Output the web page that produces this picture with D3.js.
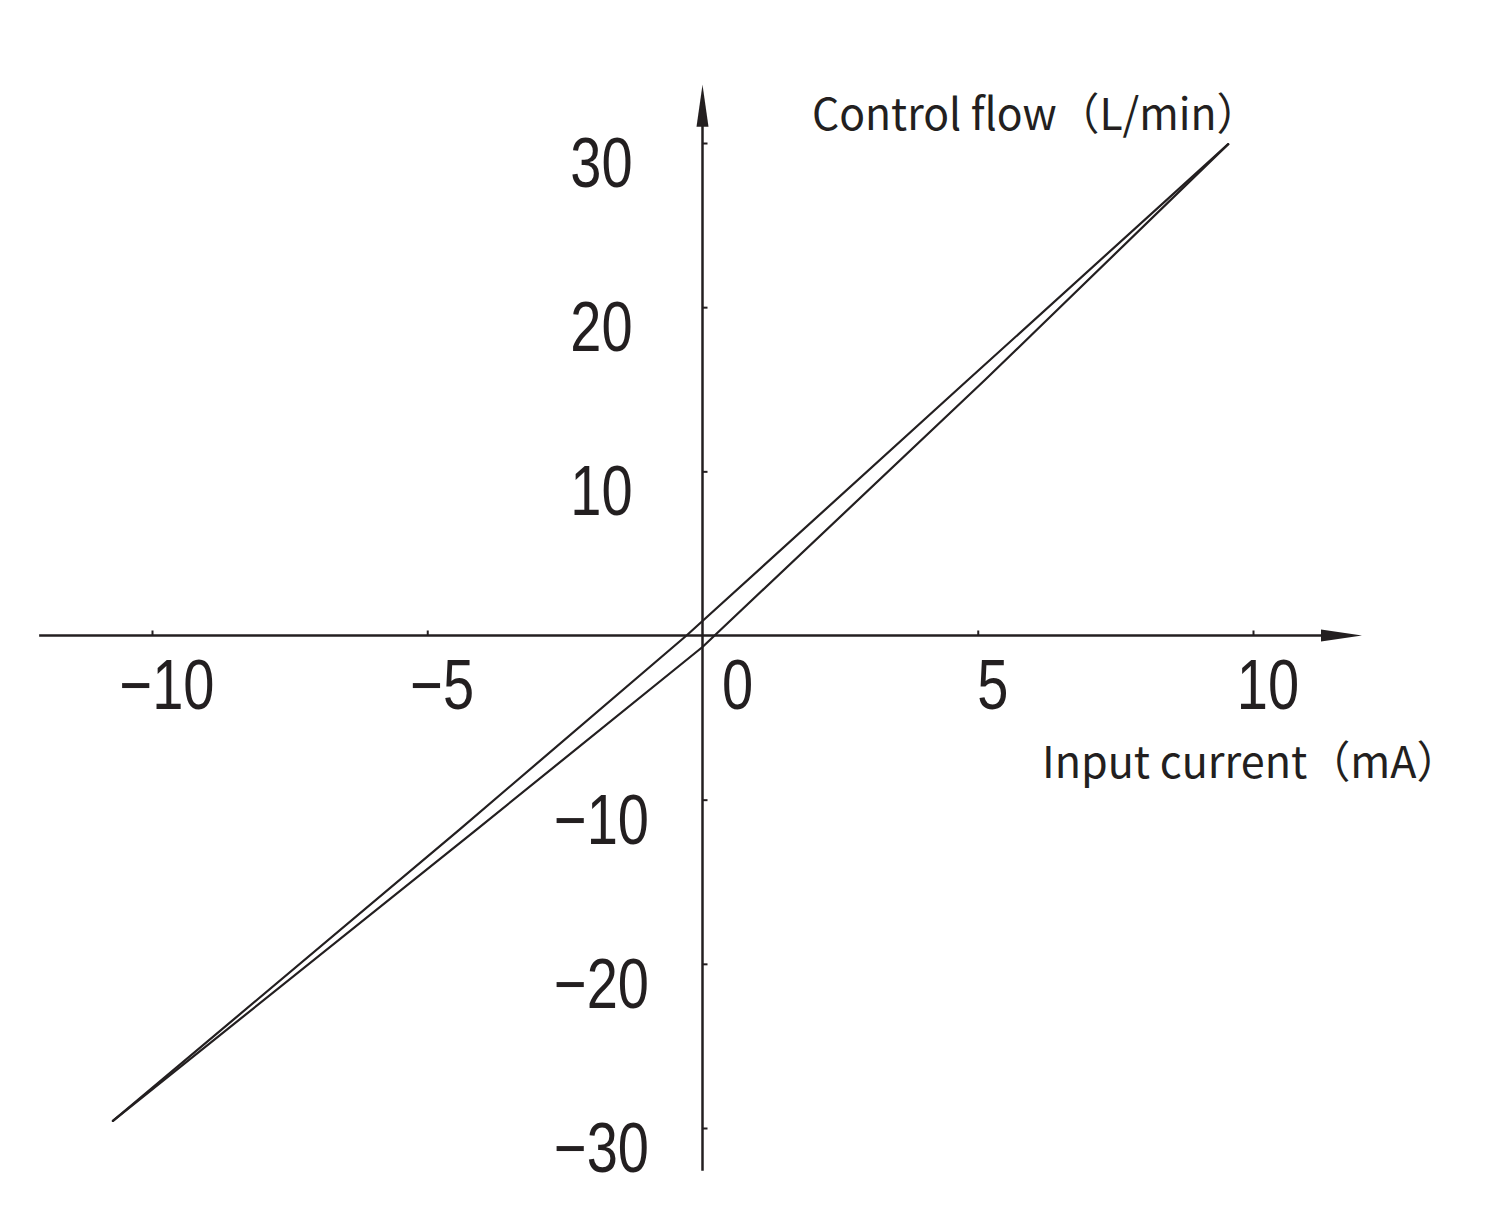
<!DOCTYPE html>
<html>
<head>
<meta charset="utf-8">
<script src="https://cdn.jsdelivr.net/npm/d3@7"></script>
<style>
  html, body { margin: 0; padding: 0; background: #ffffff; }
  svg { display: block; }
</style>
</head>
<body>
<svg id="chart" width="1488" height="1218"></svg>
<script>
// ---- data ----
const xTicks = [-10, -5, 0, 5, 10];
const yTicks = [-30, -20, -10, 10, 20, 30];
const xTitle = "Input current（mA）";
const yTitle = "Control flow（L/min）";
// hysteresis loop: upper branch and lower branch
const upperX = [-10.71, -4.42, -0.29, 0.00, 4.82, 9.55];
const upperY = [-29.57, -11.84, 0.00, 0.88, 15.56, 29.93];
const lowerX = [-10.71, -4.11, 0.00, 0.22, 5.13, 9.55];
const lowerY = [-29.57, -11.84, -0.70, 0.00, 15.56, 29.93];

// ---- drawing ----
const svg = d3.select("#chart");
const ink = "#231f20";
const x = d3.scaleLinear().domain([-10, 10]).range([152, 1253]);
const y = d3.scaleLinear().domain([-30, 30]).range([1128, 143]);

const x0 = x(0), y0 = y(0);
const xMin = x(-12.05), xMax = x(11.98);
const yTop = y(33.55), yBottom = y(-32.6);

// axes lines
svg.append("line").attr("x1", xMin).attr("x2", xMax - 30).attr("y1", y0).attr("y2", y0)
  .attr("stroke", ink).attr("stroke-width", 2.5);
svg.append("line").attr("x1", x0).attr("x2", x0).attr("y1", yTop + 30).attr("y2", yBottom)
  .attr("stroke", ink).attr("stroke-width", 2.5);

// arrowheads
svg.append("path")
  .attr("d", `M${xMax},${y0} L${xMax - 41},${y0 - 6} L${xMax - 41},${y0 + 6} Z`)
  .attr("fill", ink);
svg.append("path")
  .attr("d", `M${x0},${yTop} L${x0 - 6},${yTop + 42} L${x0 + 6},${yTop + 42} Z`)
  .attr("fill", ink);

// x ticks (above the axis)
const xAxis = d3.axisTop(x).tickValues(xTicks.filter(d => d !== 0)).tickSize(5).tickFormat("");
const gx = svg.append("g").attr("transform", `translate(0,${y0})`).call(xAxis);
gx.select(".domain").remove();
gx.selectAll(".tick line").attr("stroke", ink).attr("stroke-width", 2);

// y ticks (right of axis)
const yAxis = d3.axisRight(y).tickValues(yTicks).tickSize(5).tickFormat("");
const gy = svg.append("g").attr("transform", `translate(${x0},0)`).call(yAxis);
gy.select(".domain").remove();
gy.selectAll(".tick line").attr("stroke", ink).attr("stroke-width", 2);

const fmt = v => (v < 0 ? "\u2212" + Math.abs(v) : String(v));
const numFont = "'Liberation Sans', Arial, sans-serif";
const squeeze = 0.8;

// x tick labels
svg.append("g").selectAll("text").data(xTicks).join("text")
  .attr("transform", d => `translate(${x(d) + (d === 0 ? 35 : 15)},${y0 + 73}) scale(${squeeze},1)`)
  .attr("text-anchor", "middle")
  .attr("font-family", numFont)
  .attr("font-size", 70)
  .attr("fill", ink)
  .text(fmt);

// y tick labels
svg.append("g").selectAll("text").data(yTicks).join("text")
  .attr("transform", d => `translate(${x0 - 101},${y(d) + 44}) scale(${squeeze},1)`)
  .attr("text-anchor", "middle")
  .attr("font-family", numFont)
  .attr("font-size", 70)
  .attr("fill", ink)
  .text(fmt);

// axis titles
const titleFont = "'Noto Sans CJK SC', 'Noto Sans', sans-serif";
svg.append("text").attr("transform", "translate(812,130) scale(0.97,1)")
  .attr("font-family", titleFont).attr("font-size", 44).attr("fill", ink)
  .text(yTitle);
svg.append("text").attr("transform", "translate(1042,778) scale(0.98,1)")
  .attr("font-family", titleFont).attr("font-size", 44).attr("fill", ink)
  .text(xTitle);

// curves
const line = d3.line().x(d => x(d[0])).y(d => y(d[1]));
const upper = upperX.map((v, i) => [v, upperY[i]]);
const lower = lowerX.map((v, i) => [v, lowerY[i]]);
[upper, lower].forEach(pts => {
  svg.append("path").attr("d", line(pts))
    .attr("fill", "none").attr("stroke", ink).attr("stroke-width", 2.2)
    .attr("stroke-linecap", "round").attr("stroke-linejoin", "round");
});
</script>
</body>
</html>
